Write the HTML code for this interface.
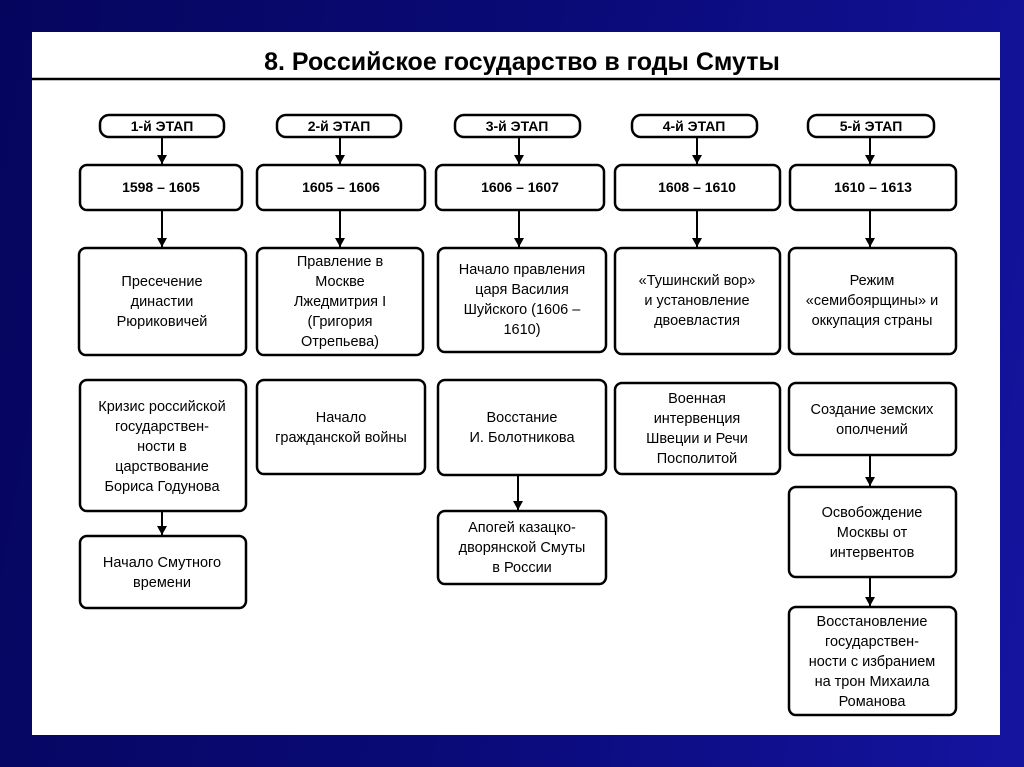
<!DOCTYPE html>
<html><head><meta charset="utf-8"><style>
body{margin:0;width:1024px;height:767px;overflow:hidden;background:linear-gradient(100deg,#05055e 0%,#0a0a78 50%,#1414a0 100%);font-family:"Liberation Sans",sans-serif}
</style></head><body>
<svg width="1024" height="767" xmlns="http://www.w3.org/2000/svg" style="position:absolute;left:0;top:0">
<defs><marker id="a" markerWidth="10" markerHeight="10" refX="9" refY="5" orient="auto" markerUnits="userSpaceOnUse"><path d="M0,0 L9,5 L0,10 z" fill="#000"/></marker></defs>
<rect x="32" y="32" width="968" height="703" fill="#fff"/>
<line x1="32" y1="79" x2="1000" y2="79" stroke="#000" stroke-width="2.5"/>
<text x="522" y="70" text-anchor="middle" font-size="25" font-weight="bold" font-family="Liberation Sans, sans-serif">8. Российское государство в годы Смуты</text>
<g fill="none" stroke="#000" stroke-width="2.5">
<rect x="100" y="115" width="124" height="22" rx="9"/>
<rect x="277" y="115" width="124" height="22" rx="9"/>
<rect x="455" y="115" width="125" height="22" rx="9"/>
<rect x="632" y="115" width="125" height="22" rx="9"/>
<rect x="808" y="115" width="126" height="22" rx="9"/>
<rect x="80" y="165" width="162" height="45" rx="7"/>
<rect x="257" y="165" width="168" height="45" rx="7"/>
<rect x="436" y="165" width="168" height="45" rx="7"/>
<rect x="615" y="165" width="165" height="45" rx="7"/>
<rect x="790" y="165" width="166" height="45" rx="7"/>
<rect x="79" y="248" width="167" height="107" rx="7"/>
<rect x="257" y="248" width="166" height="107" rx="7"/>
<rect x="438" y="248" width="168" height="104" rx="7"/>
<rect x="615" y="248" width="165" height="106" rx="7"/>
<rect x="789" y="248" width="167" height="106" rx="7"/>
<rect x="80" y="380" width="166" height="131" rx="7"/>
<rect x="257" y="380" width="168" height="94" rx="7"/>
<rect x="438" y="380" width="168" height="95" rx="7"/>
<rect x="615" y="383" width="165" height="91" rx="7"/>
<rect x="789" y="383" width="167" height="72" rx="7"/>
<rect x="80" y="536" width="166" height="72" rx="7"/>
<rect x="438" y="511" width="168" height="73" rx="7"/>
<rect x="789" y="487" width="167" height="90" rx="7"/>
<rect x="789" y="607" width="167" height="108" rx="7"/>
</g>
<g stroke="#000" stroke-width="2" marker-end="url(#a)">
<line x1="162" y1="137" x2="162" y2="164"/><line x1="340" y1="137" x2="340" y2="164"/><line x1="519" y1="137" x2="519" y2="164"/><line x1="697" y1="137" x2="697" y2="164"/><line x1="870" y1="137" x2="870" y2="164"/>
<line x1="162" y1="210" x2="162" y2="247"/><line x1="340" y1="210" x2="340" y2="247"/><line x1="519" y1="210" x2="519" y2="247"/><line x1="697" y1="210" x2="697" y2="247"/><line x1="870" y1="210" x2="870" y2="247"/>
<line x1="162" y1="511" x2="162" y2="535"/><line x1="518" y1="475" x2="518" y2="510"/><line x1="870" y1="455" x2="870" y2="486"/><line x1="870" y1="577" x2="870" y2="606"/>
</g>
<g font-size="14" font-weight="bold" text-anchor="middle">
<text x="162" y="131">1-й ЭТАП</text><text x="339" y="131">2-й ЭТАП</text><text x="517" y="131">3-й ЭТАП</text><text x="694" y="131">4-й ЭТАП</text><text x="871" y="131">5-й ЭТАП</text>
<text x="161" y="192">1598 – 1605</text><text x="341" y="192">1605 – 1606</text><text x="520" y="192">1606 – 1607</text><text x="697" y="192">1608 – 1610</text><text x="873" y="192">1610 – 1613</text>
</g>
<g font-size="14.5" text-anchor="middle">
<text x="162" y="286">Пресечение</text><text x="162" y="306">династии</text><text x="162" y="326">Рюриковичей</text>
<text x="340" y="266">Правление в</text><text x="340" y="286">Москве</text><text x="340" y="306">Лжедмитрия I</text><text x="340" y="326">(Григория</text><text x="340" y="346">Отрепьева)</text>
<text x="522" y="274">Начало правления</text><text x="522" y="294">царя Василия</text><text x="522" y="314">Шуйского (1606 –</text><text x="522" y="334">1610)</text>
<text x="697" y="285">«Тушинский вор»</text><text x="697" y="305">и установление</text><text x="697" y="325">двоевластия</text>
<text x="872" y="285">Режим</text><text x="872" y="305">«семибоярщины» и</text><text x="872" y="325">оккупация страны</text>
<text x="162" y="411">Кризис российской</text><text x="162" y="431">государствен-</text><text x="162" y="451">ности в</text><text x="162" y="471">царствование</text><text x="162" y="491">Бориса Годунова</text>
<text x="341" y="422">Начало</text><text x="341" y="442">гражданской войны</text>
<text x="522" y="422">Восстание</text><text x="522" y="442">И. Болотникова</text>
<text x="697" y="403">Военная</text><text x="697" y="423">интервенция</text><text x="697" y="443">Швеции и Речи</text><text x="697" y="463">Посполитой</text>
<text x="872" y="414">Создание земских</text><text x="872" y="434">ополчений</text>
<text x="162" y="567">Начало Смутного</text><text x="162" y="587">времени</text>
<text x="522" y="532">Апогей казацко-</text><text x="522" y="552">дворянской Смуты</text><text x="522" y="572">в России</text>
<text x="872" y="517">Освобождение</text><text x="872" y="537">Москвы от</text><text x="872" y="557">интервентов</text>
<text x="872" y="626">Восстановление</text><text x="872" y="646">государствен-</text><text x="872" y="666">ности с избранием</text><text x="872" y="686">на трон Михаила</text><text x="872" y="706">Романова</text>
</g>
</svg>
</body></html>
